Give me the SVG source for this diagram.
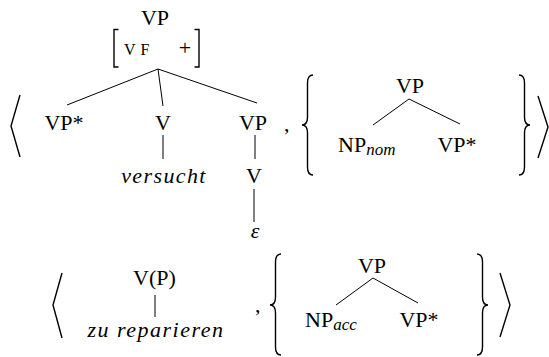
<svg xmlns="http://www.w3.org/2000/svg" width="549" height="357" viewBox="0 0 549 357" font-family="Liberation Serif, Times New Roman, Times, DejaVu Serif, serif">
<style>
text{font-family:"Liberation Serif","Times New Roman",Times,"DejaVu Serif",serif;font-size:22px;fill:#000}
.m{text-anchor:middle}
.i{font-style:italic}
.sub{font-style:italic;font-size:17px}
.e{fill:none;stroke:#000;stroke-width:1}
.d{fill:none;stroke:#000;stroke-width:1.4;stroke-linejoin:miter}
</style>
<rect width="549" height="357" fill="#fff"/>
<g id="delimiters">
<path class="d" d="M20,95 L11,126 L20,157"/>
<path class="d" d="M538,96 L548,127 L538,158"/>
<path class="d" d="M313,75 Q307.5,75 307.5,83 L307.5,117 Q307.5,125 302,125 Q307.5,125 307.5,133 L307.5,167 Q307.5,175 313,175"/>
<path class="d" d="M519,75 Q524.5,75 524.5,83 L524.5,117 Q524.5,125 530,125 Q524.5,125 524.5,133 L524.5,167 Q524.5,175 519,175"/>
<path class="d" d="M62,273 L53,305 L62,338"/>
<path class="d" d="M500,273 L510,305 L500,337"/>
<path class="d" d="M281,254 Q275.5,254 275.5,262 L275.5,297 Q275.5,305 270,305 Q275.5,305 275.5,313 L275.5,347 Q275.5,355 281,355"/>
<path class="d" d="M477,254 Q482.5,254 482.5,262 L482.5,297 Q482.5,305 488,305 Q482.5,305 482.5,313 L482.5,347 Q482.5,355 477,355"/>
<text x="284" y="131">,</text>
<text x="255" y="312">,</text>
</g>
<g id="connectors">
<line class="e" x1="158" y1="69" x2="67" y2="105"/>
<line class="e" x1="158" y1="69" x2="163" y2="106"/>
<line class="e" x1="158" y1="69" x2="257" y2="103"/>
<line class="e" x1="163" y1="135" x2="163" y2="159"/>
<line class="e" x1="255" y1="135" x2="255" y2="159"/>
<line class="e" x1="254" y1="189" x2="254" y2="222"/>
<line class="e" x1="409" y1="99" x2="373" y2="125"/>
<line class="e" x1="409" y1="99" x2="460" y2="124"/>
<line class="e" x1="155" y1="295" x2="155" y2="317"/>
<line class="e" x1="373" y1="278" x2="336" y2="305"/>
<line class="e" x1="373" y1="278" x2="418" y2="303"/>
</g>
<g id="n-root">
<text class="m" x="155" y="25">VP</text>
<path class="d" d="M118.5,29.5 H114 V67 H118.5"/>
<text x="124" y="55" letter-spacing="5" style="font-size:16px">VF</text>
<text class="m" x="185" y="55">+</text>
<path class="d" d="M194.5,29.5 H199 V67 H194.5"/>
</g>
<g id="n-vpstar1"><text class="m" x="64" y="130">VP*</text></g>
<g id="n-v1"><text class="m" x="163" y="130">V</text></g>
<g id="n-vp1"><text class="m" x="253" y="130">VP</text></g>
<g id="n-versucht"><text class="m i" x="164" y="183" letter-spacing="1.4">versucht</text></g>
<g id="n-v2"><text class="m" x="254" y="183">V</text></g>
<g id="n-eps"><text class="m i" x="255" y="238">ε</text></g>
<g id="n-vp2"><text class="m" x="410" y="93">VP</text></g>
<g id="n-npnom"><text x="338" y="152">NP<tspan class="sub" dy="3">nom</tspan></text></g>
<g id="n-vpstar2"><text class="m" x="457" y="152">VP*</text></g>
<g id="n-vofp"><text class="m" x="154.5" y="285">V(P)</text></g>
<g id="n-zurep"><text class="m i" x="156" y="337" letter-spacing="1.5">zu reparieren</text></g>
<g id="n-vp3"><text class="m" x="372" y="273">VP</text></g>
<g id="n-npacc"><text x="305" y="327">NP<tspan class="sub" dy="3">acc</tspan></text></g>
<g id="n-vpstar3"><text class="m" x="419" y="327">VP*</text></g>
</svg>
